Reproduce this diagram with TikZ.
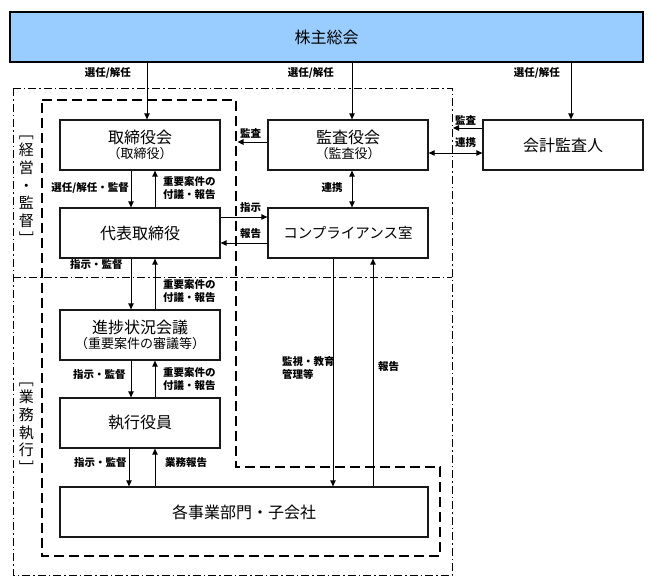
\documentclass[tikz,border=0pt]{standalone}
\usepackage{fontspec}
\setmainfont{Noto Sans CJK JP}
\usetikzlibrary{arrows.meta,calc}
\definecolor{skyfill}{HTML}{99CCFF}
\tikzset{
  box/.style={draw=black!90, line width=1.3pt, minimum width=160pt, minimum height=50pt, inner sep=0pt, align=center, font=\fontsize{16}{18}\selectfont},
  topbox/.style={draw=black, line width=2.2pt, fill=skyfill, minimum width=633pt, minimum height=50pt, inner sep=0pt, font=\fontsize{16}{18}\selectfont},
  arr/.style={line width=1pt, -{Triangle[length=6pt,width=5.5pt]}},
  darr/.style={line width=1pt, {Triangle[length=6pt,width=5.5pt]}-{Triangle[length=6pt,width=5.5pt]}},
  lbl/.style={inner sep=0pt, font=\fontsize{10.5}{13}\selectfont\bfseries, align=left},
  grp/.style={inner sep=0pt, align=center, font=\fontsize{15}{17.7}\selectfont},
  dashdotline/.style={line width=1pt, dash pattern=on 8pt off 3pt on 1.5pt off 3pt},
  thickdash/.style={line width=2.5pt, dash pattern=on 10pt off 5pt},
}
\begin{document}
\begin{tikzpicture}[x=1pt,y=-1pt]
\useasboundingbox (0,0) rectangle (651,584);

% frames
\draw[dashdotline] (13,88) rectangle (452,575);
\draw[dashdotline] (13,277) -- (452,277);
\draw[thickdash] (42,100) -- (236,100) -- (236,467) -- (440,467) -- (440,556) -- (42,556) -- cycle;

% boxes
\node[topbox] (sh) at (326.5,37) {株主総会};
\node[box] (tb) at (140,145) {取締役会\\[-3pt]{\fontsize{13}{15}\selectfont （取締役）}};
\node[box] (daihyo) at (140,233) {代表取締役};
\node[box] (kansa) at (348,145) {監査役会\\[-3pt]{\fontsize{13}{15}\selectfont （監査役）}};
\node[box, font=\fontsize{14.5}{17}\selectfont] (comp) at (348,233) {コンプライアンス室};
\node[box] (kaikei) at (563,145) {会計監査人};
\node[box] (shin) at (140,335) {進捗状況会議\\[-3pt]{\fontsize{13}{15}\selectfont （重要案件の審議等）}};
\node[box] (shikko) at (140,423) {執行役員};
\node[box, minimum width=368pt] (kaku) at (244,512) {各事業部門・子会社};

% group labels
\node[grp] (g1) at (26.5,190) {﹇\\経\\営\\・\\監\\督\\﹈};
\node[grp] (g2) at (26.5,428) {﹇\\業\\務\\執\\行\\﹈};

% column coordinates
\coordinate (v1) at (147,0);
\coordinate (v2) at (352,0);
\coordinate (v3) at (571,0);
\coordinate (cd) at (131,0);
\coordinate (cu) at (155,0);
\coordinate (cd2) at (129,0);
\coordinate (xd) at (333,0);
\coordinate (xu) at (373,0);
\coordinate (hs) at (0,217);
\coordinate (hr) at (0,243);
\coordinate (hk) at (0,153);
\coordinate (ka1) at (237.5,142);
\coordinate (ka2) at (453,128);

% arrows from shareholders
\draw[arr] (sh.south -| v1) -- (tb.north -| v1);
\draw[arr] (sh.south -| v2) -- (kansa.north -| v2);
\draw[arr] (sh.south -| v3) -- (kaikei.north -| v3);

% left column
\draw[arr] (tb.south -| cd) -- (daihyo.north -| cd);
\draw[arr] (daihyo.north -| cu) -- (tb.south -| cu);
\draw[arr] (daihyo.south -| cd) -- (shin.north -| cd);
\draw[arr] (shin.north -| cu) -- (daihyo.south -| cu);
\draw[arr] (shin.south -| cd) -- (shikko.north -| cd);
\draw[arr] (shikko.north -| cu) -- (shin.south -| cu);
\draw[arr] (shikko.south -| cd2) -- (kaku.north -| cd2);
\draw[arr] (kaku.north -| cu) -- (shikko.south -| cu);

% middle
\draw[arr] (kansa.west |- ka1) -- (ka1);
\draw[arr] (daihyo.east |- hs) -- (comp.west |- hs);
\draw[arr] (comp.west |- hr) -- (daihyo.east |- hr);
\draw[darr] (kansa.south -| v2) -- (comp.north -| v2);
\draw[darr] (kansa.east |- hk) -- (kaikei.west |- hk);
\draw[arr] (kaikei.west |- ka2) -- (ka2);
\draw[arr] (comp.south -| xd) -- (kaku.north -| xd);
\draw[arr] (kaku.north -| xu) -- (comp.south -| xu);

% labels
\node[lbl, anchor=east] (l1) at (131,73) {選任/解任};
\node[lbl, anchor=east] (l2) at (334,73) {選任/解任};
\node[lbl, anchor=east] (l3) at (560,73) {選任/解任};
\node[lbl, anchor=east] (l4) at (129,188) {選任/解任・監督};
\node[lbl, anchor=west] (l5) at (163,188.5) {重要案件の\\付議・報告};
\node[lbl, anchor=west] (l6) at (70,265) {指示・監督};
\node[lbl, anchor=west] (l7) at (163,291) {重要案件の\\付議・報告};
\node[lbl, anchor=west] (l8) at (73,375) {指示・監督};
\node[lbl, anchor=west] (l9) at (163,379.5) {重要案件の\\付議・報告};
\node[lbl, anchor=west] (l10) at (74,463) {指示・監督};
\node[lbl, anchor=west] (l11) at (165,463) {業務報告};
\node[lbl, anchor=west] (l12) at (240,133) {監査};
\node[lbl, anchor=west] (l13) at (240,208) {指示};
\node[lbl, anchor=west] (l14) at (240,234) {報告};
\node[lbl] (l15) at (332,188) {連携};
\node[lbl, anchor=west] (l16) at (455,120) {監査};
\node[lbl, anchor=west] (l17) at (455,143) {連携};
\node[lbl, anchor=west] (l18) at (282,368.5) {監視・教育\\管理等};
\node[lbl, anchor=west] (l19) at (378,367) {報告};
\end{tikzpicture}
\end{document}
